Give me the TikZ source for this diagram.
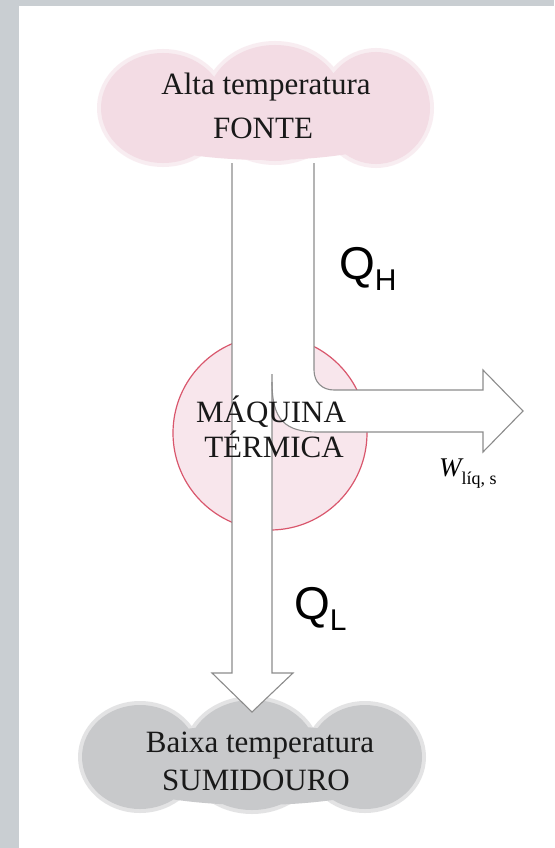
\documentclass[tikz,border=0pt]{standalone}
\usepackage{fontspec}
\setmainfont{Liberation Serif}
\newfontfamily\sansQ{Liberation Sans}
\definecolor{pagegray}{HTML}{C9CED2}
\definecolor{pinkcloud}{HTML}{F3DCE4}
\definecolor{graycloud}{HTML}{C8C9CB}
\definecolor{pinkfill}{HTML}{F8E6EC}
\definecolor{redline}{HTML}{D9566C}
\definecolor{flowline}{HTML}{8C8C8C}
\tikzset{
  cloudtext/.style={font=\fontsize{31}{31}\selectfont, text=black!90, inner sep=0pt, anchor=base},
  qlabel/.style={inner sep=0pt, anchor=base west},
  flowedge/.style={draw=flowline, line width=1.1pt, line join=miter},
}
\begin{document}
\begin{tikzpicture}[x=1pt,y=-1pt]
\useasboundingbox (0,0) rectangle (554,848);
% page
\fill[pagegray] (0,0) rectangle (554,848);
\fill[white] (19,6) rectangle (554,848);
% bottom cloud (sink)
\fill[graycloud, opacity=0.5] (140,757) ellipse [x radius=62, y radius=56]
  (252,755) ellipse [x radius=69, y radius=59]
  (365,757) ellipse [x radius=61, y radius=56];
\fill[graycloud] (140,757) ellipse [x radius=58, y radius=52]
  (252,755) ellipse [x radius=65, y radius=55]
  (365,757) ellipse [x radius=57, y radius=52]
  (255,765) ellipse [x radius=160, y radius=40];
% engine circle
\filldraw[fill=pinkfill, draw=redline, line width=1.2pt] (270,433) circle [radius=97];
% flow region
\coordinate (tl) at (232,163);
\coordinate (tr) at (314,163);
\fill[white] (tl) -- (232,673) -- (212,673) -- (252,712) -- (293,673) -- (272,673)
  -- (272,380) .. controls (272,420) and (285,432) .. (318,432)
  -- (483,432) -- (483,452) -- (523,411) -- (483,370) -- (483,390)
  -- (334,390) .. controls (322,390) and (314,382) .. (314,370) -- (tr) -- cycle;
\draw[flowedge] (tl) -- (232,673) -- (212,673) -- (252,712) -- (293,673) -- (272,673) -- (272,374);
\draw[flowedge] (272,382) .. controls (272,420) and (285,432) .. (318,432)
  -- (483,432) -- (483,452) -- (523,411) -- (483,370) -- (483,390)
  -- (334,390) .. controls (322,390) and (314,382) .. (314,370) -- (tr);
% top cloud (source)
\fill[pinkcloud, opacity=0.5] (163,108) ellipse [x radius=66, y radius=59]
  (275,103) ellipse [x radius=72, y radius=62]
  (376,108) ellipse [x radius=58, y radius=60];
\fill[pinkcloud] (163,108) ellipse [x radius=62, y radius=55]
  (275,103) ellipse [x radius=68, y radius=58]
  (376,108) ellipse [x radius=54, y radius=56]
  (266,118) ellipse [x radius=158, y radius=42];
% texts
\node[cloudtext] (alta) at (266,95) {Alta temperatura};
\node[cloudtext] (fonte) at (263,139) {FONTE};
\node[cloudtext] (baixa) at (260,752) {Baixa temperatura};
\node[cloudtext] (sumid) at (256,790) {SUMIDOURO};
\node[cloudtext] (maq) at (271,422) {MÁQUINA};
\node[cloudtext] (term) at (274,457) {TÉRMICA};
\node[qlabel] (qh) at (339,279) {\sansQ\fontsize{46}{46}\selectfont Q\raisebox{-11pt}{\fontsize{30}{30}\selectfont H}};
\node[qlabel] (ql) at (294,619) {\sansQ\fontsize{46}{46}\selectfont Q\raisebox{-11pt}{\fontsize{30}{30}\selectfont L}};
\node[qlabel] (w) at (439,476) {\fontsize{27}{27}\selectfont\itshape W\upshape\raisebox{-8pt}{\fontsize{18}{18}\selectfont líq, s}};
\end{tikzpicture}
\end{document}
